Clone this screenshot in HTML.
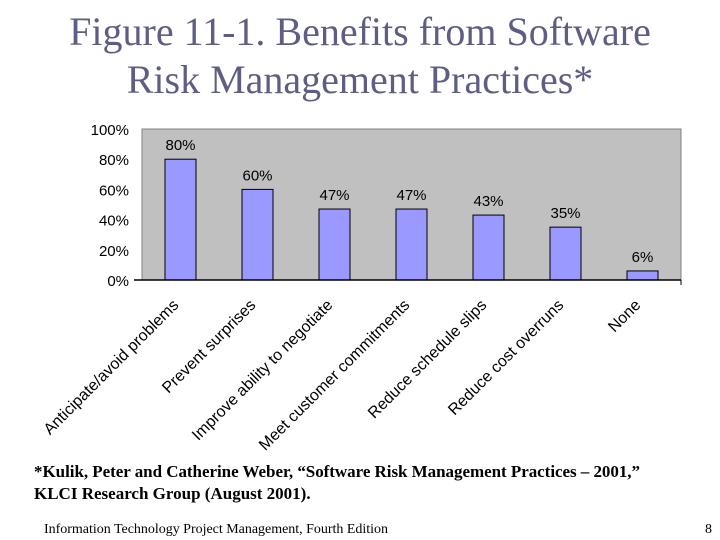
<!DOCTYPE html>
<html><head><meta charset="utf-8"><style>
body{margin:0;width:720px;height:540px;background:#fff;overflow:hidden;position:relative;font-family:"Liberation Serif",serif}
.t{position:absolute;left:0;width:720px;text-align:center;color:#5e5e85;font-size:40px;line-height:48px}
</style></head><body>
<div class="t" style="top:8px">Figure 11-1. Benefits from Software<br>Risk Management Practices*</div>
<svg width="720" height="540" style="position:absolute;left:0;top:0">
<g id="g"></g>
<text x="34" y="477" font-family="Liberation Serif,serif" font-size="17" font-weight="bold" textLength="606">*Kulik, Peter and Catherine Weber, “Software Risk Management Practices – 2001,”</text>
<text x="34" y="499" font-family="Liberation Serif,serif" font-size="17" font-weight="bold">KLCI Research Group (August 2001).</text>
<text x="44" y="533" font-family="Liberation Serif,serif" font-size="14" textLength="344">Information Technology Project Management, Fourth Edition</text>
<text x="712" y="533" text-anchor="end" font-family="Liberation Serif,serif" font-size="14">8</text>
</svg>
<script>
const categories=["Anticipate/avoid problems","Prevent surprises","Improve ability to negotiate","Meet customer commitments","Reduce schedule slips","Reduce cost overruns","None"];
const values=[80,60,47,47,43,35,6];
const ticks=[0,20,40,60,80,100];
const L=142,R=681,T=129,B=280;
const y=v=>B-(B-T)*v/100;
const cw=(R-L)/categories.length;
const x=i=>L+cw*(i+0.5);
const g=document.getElementById('g');
const ns="http://www.w3.org/2000/svg";
function mk(t,a){const e=document.createElementNS(ns,t);for(const k in a)e.setAttribute(k,a[k]);g.appendChild(e);return e;}
let e=mk('rect',{x:L,y:T,width:R-L,height:B-T,fill:'#c0c0c0',stroke:'#808080','stroke-width':1});


ticks.forEach(t=>{const tx=mk('text',{x:129,y:y(t)+6,'text-anchor':'end','font-family':'Liberation Sans,sans-serif','font-size':15});tx.textContent=t+'%';

});
values.forEach((v,i)=>{
const b=mk('rect',{x:x(i)-15.5,y:y(v),width:31,height:B-y(v),fill:'#9999ff',stroke:'#000','stroke-width':1});


const l=mk('text',{x:x(i),y:y(v)-9,'text-anchor':'middle','font-family':'Liberation Sans,sans-serif','font-size':15});l.textContent=v+'%';


const cx=x(i)-1,cy=B+26;
const c=mk('text',{x:cx,y:cy,'text-anchor':'end','font-family':'Liberation Sans,sans-serif','font-size':16,transform:`rotate(-45 ${cx} ${cy})`});c.textContent=categories[i];


});
e=mk('line',{x1:L-8,y1:B,x2:R,y2:B,stroke:'#000','stroke-width':1.5});


mk('line',{x1:R,y1:B,x2:R,y2:B+5,stroke:'#000'});
</script>
</body></html>
